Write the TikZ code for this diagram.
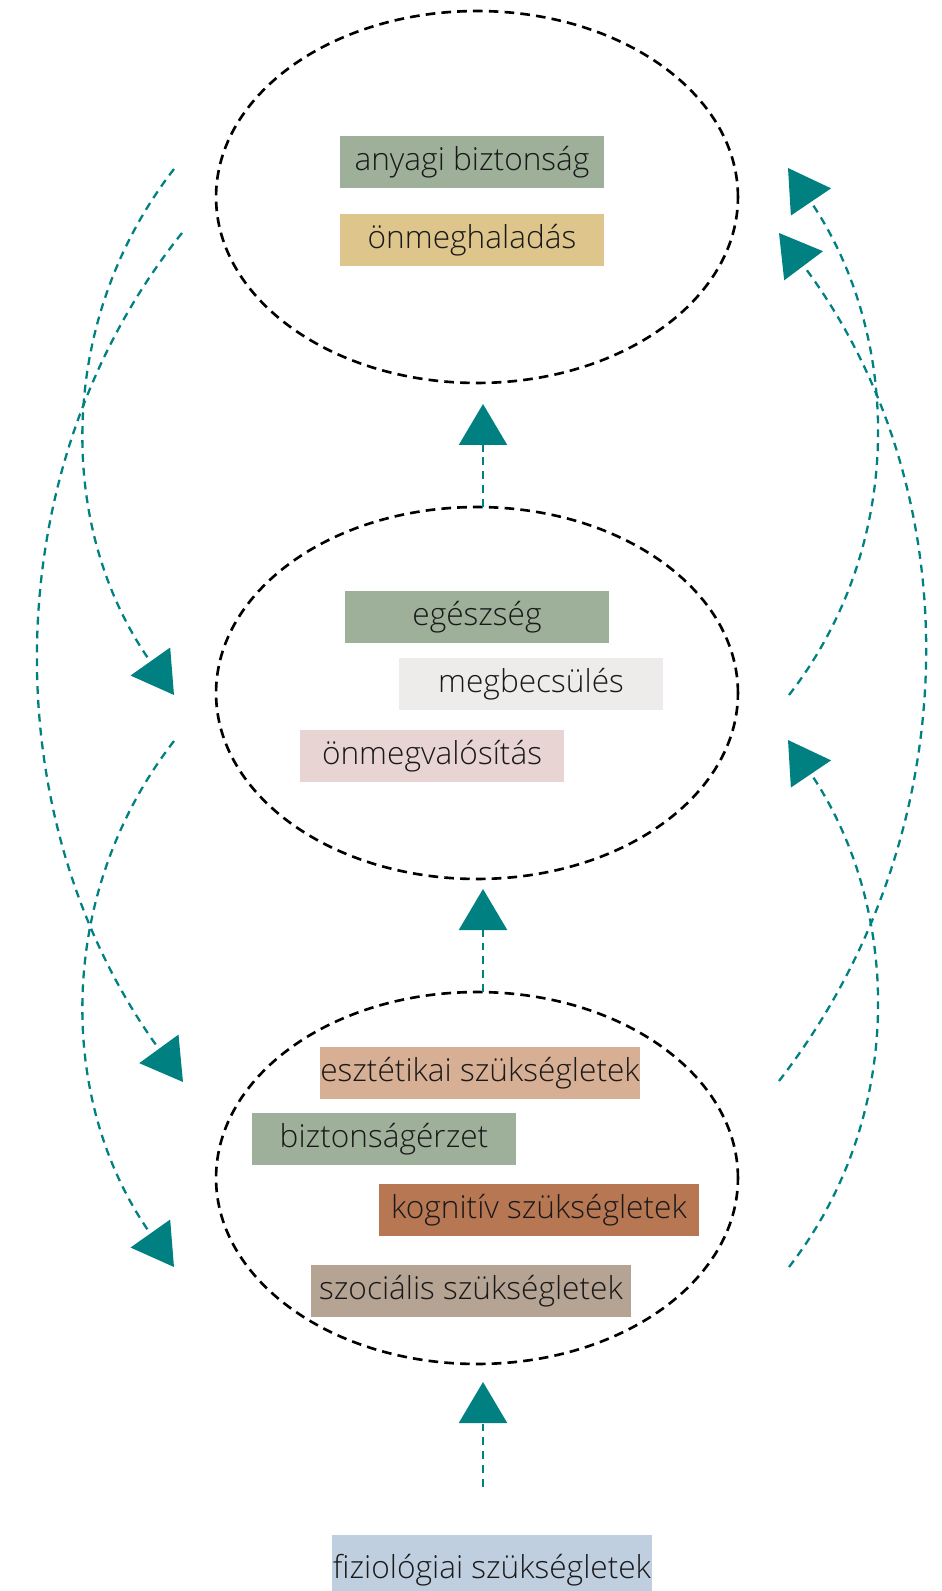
\documentclass[tikz,border=0pt]{standalone}
\usepackage{fontspec}
\setmainfont{Open Sans Light}
\usetikzlibrary{arrows.meta,shapes.geometric}
\definecolor{arrowteal}{HTML}{008080}
\definecolor{sage}{HTML}{9EB09A}
\definecolor{sand}{HTML}{DDC58B}
\definecolor{paleGrey}{HTML}{EDECEA}
\definecolor{palePink}{HTML}{E8D4D3}
\definecolor{peach}{HTML}{D7AF94}
\definecolor{rust}{HTML}{B87753}
\definecolor{taupe}{HTML}{B5A393}
\definecolor{paleBlue}{HTML}{C0CFDF}
\begin{document}
\begin{tikzpicture}[x=0.02cm,y=-0.02cm,
    need/.style={rectangle,fill=#1,minimum width=5.28cm,minimum height=1.04cm,inner sep=0pt,
      font=\fontsize{18}{21}\selectfont,text=black!90},
    wide/.style={minimum width=6.4cm},
    level/.style={ellipse,draw,line width=1.5pt,dash pattern=on 5.5pt off 3.5pt,
      minimum width=10.44cm,minimum height=7.44cm,inner sep=0pt,outer sep=0pt},
    flow/.style={arrowteal,line width=1.3pt,dash pattern=on 4.5pt off 3.4pt,
      -{Triangle[width=0.96cm,length=0.82cm]}}]
  \useasboundingbox (0,0) rectangle (941,1591);

  % levels
  \node[level] (top) at (477,197) {};
  \node[level] (mid) at (477,693) {};
  \node[level] (low) at (477,1178) {};

  % needs
  \node[need=sage] (anyagi) at (472,162) {anyagi biztonság};
  \node[need=sand] (meghalad) at (472,240) {önmeghaladás};
  \node[need=sage] (egeszseg) at (477,617) {egészség};
  \node[need=paleGrey] (megbecs) at (531,684) {megbecsülés};
  \node[need=palePink] (valosit) at (432,756) {önmegvalósítás};
  \node[need=peach,wide] (esztet) at (480,1073) {esztétikai szükségletek};
  \node[need=sage] (bizterzet) at (384,1139) {biztonságérzet};
  \node[need=rust,wide] (kognit) at (539,1210) {kognitív szükségletek};
  \node[need=taupe,wide] (szocial) at (471,1291) {szociális szükségletek};
  \node[need=paleBlue,wide,minimum height=1.4cm] (fiziol) at (492,1570) {fiziológiai szükségletek};

  % straight arrows upwards
  \coordinate (base) at (483,1487);
  \coordinate (t1) at (483,1382);
  \coordinate (t2) at (483,889);
  \coordinate (t3) at (483,404);
  \draw[flow] (base) -- (t1);
  \draw[flow] (t2 |- low.north) -- (t2);
  \draw[flow] (t3 |- mid.north) -- (t3);

  % side arrows, left
  \coordinate (l1) at (174,169);  \coordinate (l1e) at (174,695);
  \coordinate (l2) at (182,233);  \coordinate (l2e) at (183,1082);
  \coordinate (l3) at (174,741);  \coordinate (l3e) at (174,1267);
  \draw[flow] (l1) .. controls (56,321) and (56,528) .. (l1e);
  \draw[flow] (l2) .. controls (-8,470) and (-7,821) .. (l2e);
  \draw[flow] (l3) .. controls (56,893) and (56,1100) .. (l3e);

  % side arrows, right
  \coordinate (r1) at (789,695);  \coordinate (r1e) at (788,168);
  \coordinate (r2) at (779,1081); \coordinate (r2e) at (779,233);
  \coordinate (r3) at (789,1267); \coordinate (r3e) at (788,740);
  \draw[flow] (r1) .. controls (907,543) and (901,335) .. (r1e);
  \draw[flow] (r2) .. controls (971,833) and (971,489) .. (r2e);
  \draw[flow] (r3) .. controls (907,1115) and (901,907) .. (r3e);
\end{tikzpicture}
\end{document}
